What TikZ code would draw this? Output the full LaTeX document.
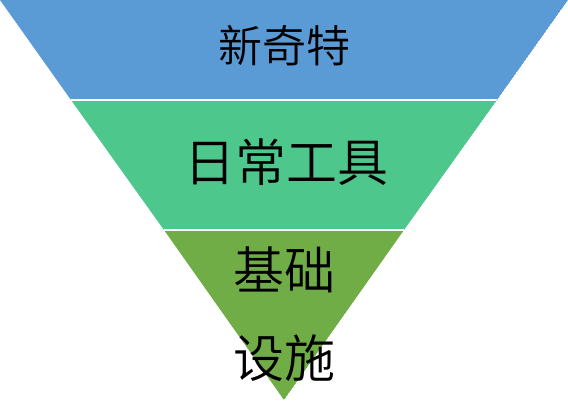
\documentclass[tikz,border=0pt]{standalone}
\usepackage{fontspec}
\newfontfamily\cjk{Noto Sans CJK SC DemiLight}
\definecolor{bandblue}{RGB}{91,155,213}
\definecolor{bandgreen}{RGB}{78,199,141}
\definecolor{bandolive}{RGB}{112,173,71}
\begin{document}
\begin{tikzpicture}[x=1pt,y=-1pt,
  band/.style={draw=white,line width=2.5pt,line join=miter},
  lbl/.style={inner sep=0pt,text=black,align=center}]
\useasboundingbox (0,0) rectangle (568,401);
\fill[white] (0,0) rectangle (568,401);
\coordinate (tl) at (0,0);
\coordinate (tr) at (568,0);
\coordinate (apex) at (284,400);
\coordinate (l1) at (71,100);
\coordinate (r1) at (497,100);
\coordinate (l2) at (164,230);
\coordinate (r2) at (404,230);
\begin{scope}
\clip (tl) -- (tr) -- (apex) -- cycle;
\fill[bandblue] (tl) -- (tr) -- (r1) -- (l1) -- cycle;
\fill[bandgreen] (l1) -- (r1) -- (r2) -- (l2) -- cycle;
\fill[bandolive] (l2) -- (r2) -- (apex) -- cycle;
\draw[white,line width=2.5pt] (l1) -- (r1);
\draw[white,line width=2.5pt] (l2) -- (r2);
\end{scope}
\node[lbl,font={\cjk\fontsize{44}{48}\selectfont}] (t1) at (284,46) {新奇特};
\node[lbl,font={\cjk\fontsize{51}{56}\selectfont}] (t2) at (286,162) {日常工具};
\node[lbl,font={\cjk\fontsize{51}{88}\selectfont}] (t3) at (284,314) {基础\\设施};
\end{tikzpicture}
\end{document}
